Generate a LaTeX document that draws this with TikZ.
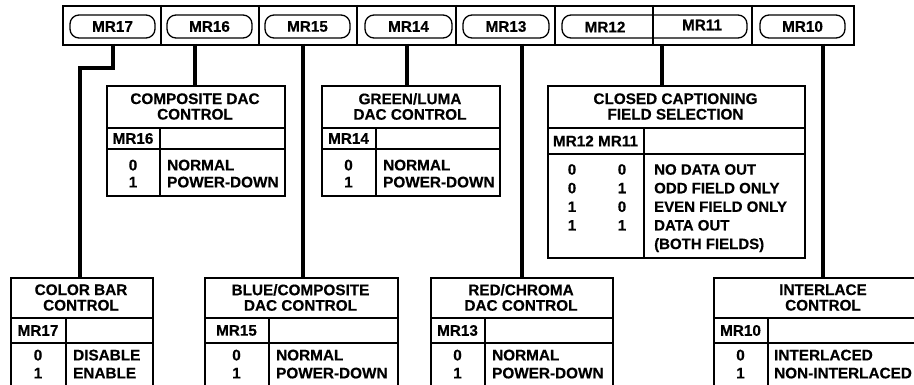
\documentclass[tikz,border=0pt]{standalone}
\usepackage{fontspec}
\setmainfont{Liberation Sans}[BoldFeatures={FakeBold=0.4}]
\newcommand\ctlframe[8]{%
  \node[frame, minimum width={#3-#2}, minimum height={#8-#5}] (#1) at (#2,#5) {};
  \draw[rule] (#2,#6) -- (#3,#6) (#2,#7) -- (#3,#7) (#4,#6) -- (#4,#8);}
\begin{document}
\begin{tikzpicture}[x=1pt,y=-1pt,
  every node/.style={font=\fontsize{15.3}{18}\selectfont\bfseries, inner sep=0pt},
  frame/.style={draw, line width=1.8pt, anchor=north west},
  rule/.style={line width=1.8pt},
  pill/.style={draw, line width=1.3pt, rounded corners=9pt, minimum height=23pt},
  wire/.style={line width=3.3pt},
  ttl/.style={align=center, font=\fontsize{15.3}{15.5}\selectfont\bfseries},
  vals/.style={align=center, anchor=north},
  desc/.style={align=left, anchor=north west},
  rtop/.style={font=\fontsize{15.3}{17}\selectfont\bfseries},
  rbot/.style={font=\fontsize{15.3}{18}\selectfont\bfseries},
  rcc/.style={font=\fontsize{15}{18.6}\selectfont\bfseries},
]
\fill[white] (0,0) rectangle (914,385);
\useasboundingbox (0,0) rectangle (914,385);

% register bar
\node[frame, minimum width=791pt, minimum height=39pt] (bar) at (62,5) {};
\node[pill, minimum width=85pt] (p17) at (112.5,26.5) {MR17};
\node[pill, minimum width=85pt] (p16) at (209.5,26.5) {MR16};
\node[pill, minimum width=85pt] (p15) at (307.5,26.5) {MR15};
\node[pill, minimum width=87pt] (p14) at (408.5,26.5) {MR14};
\node[pill, minimum width=86pt] (p13) at (506,26.5) {MR13};
\node[pill, minimum width=185pt] (p1211) at (654.5,26.5) {};
\node (t12) at (605,27) {MR12};
\node (t11) at (702,25) {MR11};
\node[pill, minimum width=85pt] (p10) at (802.5,26.5) {MR10};
\foreach \x in {161,259,357,456,555,653,752} \draw[rule] (\x,5) -- (\x,44);

\coordinate (c17) at (113,44);
\coordinate (k17) at (80,68);
\coordinate (c16) at (195,44);
\coordinate (c15) at (303,44);
\coordinate (c14) at (407,44);
\coordinate (c13) at (522,44);
\coordinate (c12) at (662,44);
\coordinate (c10) at (823,44);

% composite DAC
\ctlframe{comp}{106}{284}{160}{85}{128}{149}{195}
\node[ttl] (compT) at (195,106.5) {COMPOSITE DAC\\CONTROL};
\node (compM) at (133,138.5) {MR16};
\node[vals, rtop] (compV) at (133,159.5) {0\\1};
\node[desc, rtop] (compD) at (167,159.5) {NORMAL\\POWER-DOWN};

% green/luma
\ctlframe{green}{321}{499}{376}{85}{128}{149}{195}
\node[ttl] (greenT) at (410,106.5) {GREEN/LUMA\\DAC CONTROL};
\node (greenM) at (348.5,138.5) {MR14};
\node[vals, rtop] (greenV) at (348.5,159.5) {0\\1};
\node[desc, rtop] (greenD) at (383,159.5) {NORMAL\\POWER-DOWN};

% closed captioning
\ctlframe{cc}{547}{804}{644}{85}{128}{154}{257}
\node[ttl] (ccT) at (675.5,106.5) {CLOSED CAPTIONING\\FIELD SELECTION};
\node (ccM) at (595.5,141) {MR12 MR11};
\node[vals, rcc] (ccV1) at (572,164) {0\\0\\1\\1};
\node[vals, rcc] (ccV2) at (622,164) {0\\1\\0\\1};
\node[desc, rcc] (ccD) at (654,164) {NO DATA OUT\\ODD FIELD ONLY\\EVEN FIELD ONLY\\DATA OUT\\(BOTH FIELDS)};

% color bar
\ctlframe{cb}{10}{152}{66}{277}{318}{343}{390}
\node[ttl] (cbT) at (81,297.5) {COLOR BAR\\CONTROL};
\node (cbM) at (38,330.5) {MR17};
\node[vals, rbot] (cbV) at (38,349.5) {0\\1};
\node[desc, rbot] (cbD) at (73,349.5) {DISABLE\\ENABLE};

% blue/composite
\ctlframe{blue}{204}{397}{269}{277}{318}{343}{390}
\node[ttl] (blueT) at (300.5,297.5) {BLUE/COMPOSITE\\DAC CONTROL};
\node (blueM) at (236.5,330.5) {MR15};
\node[vals, rbot] (blueV) at (236.5,349.5) {0\\1};
\node[desc, rbot] (blueD) at (276,349.5) {NORMAL\\POWER-DOWN};

% red/chroma
\ctlframe{red}{430}{612}{485}{277}{318}{343}{390}
\node[ttl] (redT) at (521,297.5) {RED/CHROMA\\DAC CONTROL};
\node (redM) at (457.5,330.5) {MR13};
\node[vals, rbot] (redV) at (457.5,349.5) {0\\1};
\node[desc, rbot] (redD) at (492,349.5) {NORMAL\\POWER-DOWN};

% interlace
\ctlframe{inter}{713}{933}{768}{277}{318}{343}{390}
\node[ttl] (interT) at (823,297.5) {INTERLACE\\CONTROL};
\node (interM) at (740.5,330.5) {MR10};
\node[vals, rbot] (interV) at (740.5,349.5) {0\\1};
\node[desc, rbot] (interD) at (774,349.5) {INTERLACED\\NON-INTERLACED};

% connectors
\draw[wire] (c17) |- (k17) -- (k17 |- cb.north);
\draw[wire] (c16) -- (c16 |- comp.north);
\draw[wire] (c15) -- (c15 |- blue.north);
\draw[wire] (c14) -- (c14 |- green.north);
\draw[wire] (c13) -- (c13 |- red.north);
\draw[wire] (c12) -- (c12 |- cc.north);
\draw[wire] (c10) -- (c10 |- inter.north);
\end{tikzpicture}
\end{document}
